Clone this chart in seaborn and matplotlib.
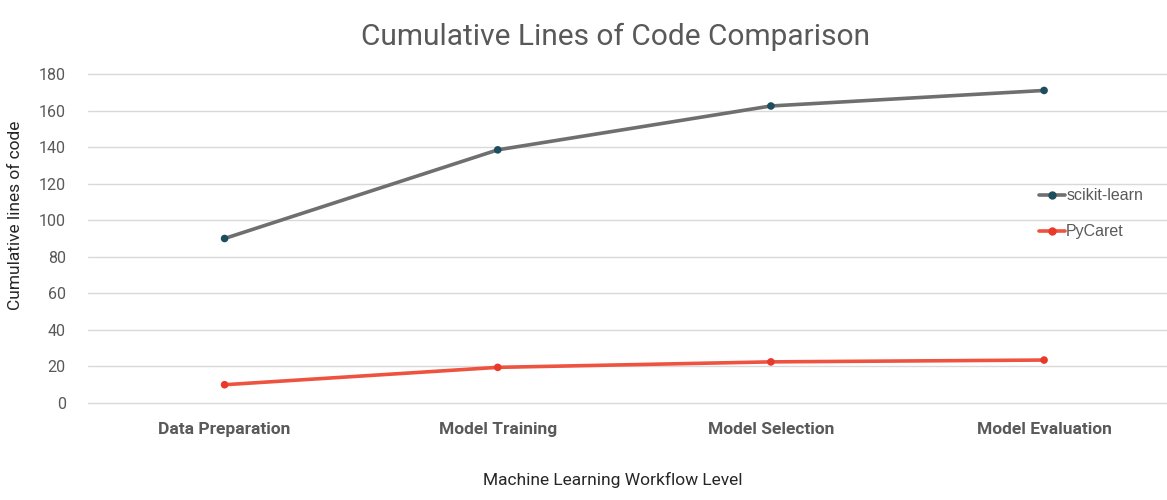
import matplotlib
matplotlib.use("Agg")
import matplotlib.pyplot as plt
import seaborn as sns
import pandas as pd
from matplotlib.lines import Line2D

stages = ["Data Preparation", "Model Training", "Model Selection", "Model Evaluation"]
sklearn_loc = [90, 138.5, 162.5, 171]
pycaret_loc = [10, 19.5, 22.5, 23.5]
series_names = ["scikit-learn", "PyCaret"]
line_colors = ["#6f6f6f", "#ee5340"]
marker_colors = ["#1d4e5e", "#e8392b"]
yticks = [0, 20, 40, 60, 80, 100, 120, 140, 160, 180]

df = pd.DataFrame({
    "stage": stages * 2,
    "pos": list(range(len(stages))) * 2,
    "loc": sklearn_loc + pycaret_loc,
    "series": [series_names[0]] * 4 + [series_names[1]] * 4,
})

sns.set_theme(style="white")
plt.rcParams["font.family"] = ["Roboto", "DejaVu Sans"]
text_color = "#595959"

fig = plt.figure(figsize=(11.67, 5.0), dpi=100)
ax = fig.add_axes([0.0754, 0.194, 0.9246, 0.658])

sns.lineplot(data=df, x="pos", y="loc", hue="series", palette=dict(zip(series_names, line_colors)),
             linewidth=2.6, ax=ax, legend=False, zorder=3)
sns.scatterplot(data=df, x="pos", y="loc", hue="series", palette=dict(zip(series_names, marker_colors)),
                s=30, edgecolor="none", ax=ax, legend=False, zorder=4)

ax.set_xlim(-0.5, 3.45)
ax.set_ylim(0, 180)
ax.set_yticks(yticks)
ax.set_yticklabels([str(v) for v in yticks], fontsize=11.5, color=text_color)
ax.set_xticks(range(len(stages)))
ax.set_xticklabels(stages, fontsize=12.5, fontweight="bold", color=text_color)
ax.tick_params(axis="x", length=0, pad=14)
ax.tick_params(axis="y", length=0, pad=16)
ax.grid(axis="y", color="#d9d9d9", linewidth=1)
for gl in ax.get_ygridlines():
    gl.set_clip_on(False)
ax.set_axisbelow(True)
for s in ax.spines.values():
    s.set_visible(False)

ax.set_xlabel("")
ax.set_ylabel("")
fig.text(0.013, 0.57, "Cumulative lines of code", ha="center", va="center", rotation=90,
         fontsize=12.5, color="#262626")
fig.text(0.525, 0.04, "Machine Learning Workflow Level", ha="center", va="center",
         fontsize=12.5, color="#262626")
fig.text(0.527, 0.927, "Cumulative Lines of Code Comparison", ha="center", va="center",
         fontsize=21.5, color=text_color)

handles = [Line2D([0], [0], color=lc, lw=2.6, marker="o", markersize=5,
                  markerfacecolor=mc, markeredgecolor=mc)
           for lc, mc in zip(line_colors, marker_colors)]
leg = ax.legend(handles, series_names, loc="center left", bbox_to_anchor=(0.868, 0.575),
                frameon=False, handlelength=1.6, handletextpad=0.1, labelspacing=1.3,
                prop={"family": ["Liberation Sans", "DejaVu Sans"], "size": 11.5})
for t in leg.get_texts():
    t.set_color(text_color)

fig.savefig("out.png", dpi=100, facecolor="white")
